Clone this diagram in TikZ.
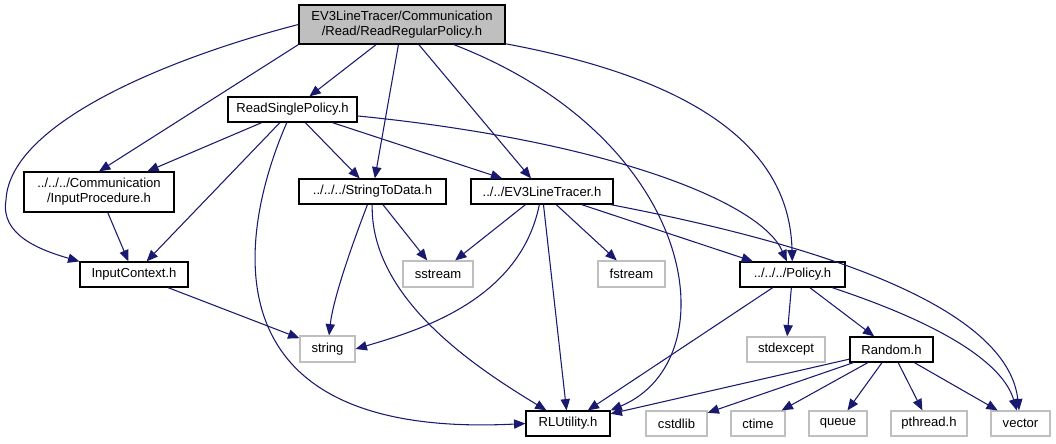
\documentclass[tikz,border=0pt]{standalone}
\usepackage{fontspec}
\setmainfont{Liberation Sans}
\usetikzlibrary{arrows.meta}
\definecolor{edgeblue}{HTML}{191970}
\definecolor{greyline}{HTML}{BFBFBF}
\tikzset{
  box/.style={draw=black, line width=0.9pt, fill=white, inner sep=0pt, align=center, font=\fontsize{9.8}{11.3}\selectfont},
  sysbox/.style={box, draw=greyline},
  rootbox/.style={box, fill=greyline},
  edge/.style={draw=edgeblue, line width=0.8pt, -{Triangle[length=8.5pt,width=7pt]}, color=edgeblue}
}
\begin{document}
\begin{tikzpicture}[x=0.75pt,y=-0.75pt]
\useasboundingbox (0,0) rectangle (1056,443);
% nodes
\node[rootbox, minimum width=154.5pt, minimum height=29.25pt] (top) at (402,24.5) {EV3LineTracer/Communication\\/Read/ReadRegularPolicy.h};
\node[box, minimum width=96.75pt, minimum height=18.75pt] (rsp) at (292.5,109.5) {ReadSinglePolicy.h};
\node[box, minimum width=112.5pt, minimum height=30pt] (ip) at (99,192) {../../../Communication\\/InputProcedure.h};
\node[box, minimum width=81pt, minimum height=18.75pt] (ic) at (134,274.5) {InputContext.h};
\node[box, minimum width=110.25pt, minimum height=18.75pt] (std) at (372.5,191.5) {../../../StringToData.h};
\node[box, minimum width=106.5pt, minimum height=18.75pt] (ev3) at (542,191.5) {../../EV3LineTracer.h};
\node[sysbox, minimum width=52.5pt, minimum height=19.5pt] (sst) at (438,274) {sstream};
\node[sysbox, minimum width=50.25pt, minimum height=19.5pt] (fst) at (631.5,274) {fstream};
\node[sysbox, minimum width=41.25pt, minimum height=19.5pt] (str) at (327.5,349) {string};
\node[box, minimum width=78.75pt, minimum height=18.75pt] (pol) at (792.5,274.5) {../../../Policy.h};
\node[sysbox, minimum width=58.5pt, minimum height=18.75pt] (sxc) at (786,349.5) {stdexcept};
\node[box, minimum width=62.25pt, minimum height=18.75pt] (rnd) at (891.5,349.5) {Random.h};
\node[sysbox, minimum width=45.75pt, minimum height=18.75pt] (csl) at (676.5,423.5) {cstdlib};
\node[sysbox, minimum width=40.5pt, minimum height=18.75pt] (ctm) at (758,423.5) {ctime};
\node[sysbox, minimum width=43.5pt, minimum height=18.75pt] (que) at (838,423.5) {queue};
\node[sysbox, minimum width=57pt, minimum height=18.75pt] (pth) at (929,423.5) {pthread.h};
\node[sysbox, minimum width=44.25pt, minimum height=18.75pt] (vec) at (1020.5,423.5) {vector};
\node[box, minimum width=63pt, minimum height=18.75pt] (rlu) at (568,423.5) {RLUtility.h};
% edges from top
\coordinate (lbend) at (6,200);
\draw[edge] (top.west) .. controls (180,55) and (10,120) .. (lbend) .. controls (0,235) and (40,250) .. (ic.north west);
\draw[edge] (top.south west) -- (ip.north);
\draw[edge] (top) -- (rsp);
\draw[edge] (top) -- (std);
\draw[edge] (top) -- (ev3);
\draw[edge] (top) .. controls (700,140) and (730,360) .. (rlu.north east);
\draw[edge] (top) .. controls (700,80) and (790,150) .. (pol);
% from ReadSinglePolicy
\draw[edge] (rsp) -- (ip);
\draw[edge] (rsp) -- (ic);
\draw[edge] (rsp) .. controls (240,230) and (200,440) .. (rlu.west);
\draw[edge] (rsp) -- (std);
\draw[edge] (rsp) -- (ev3);
\draw[edge] (rsp) .. controls (600,140) and (760,200) .. (pol);
% InputProcedure / InputContext
\draw[edge] (ip) -- (ic);
\draw[edge] (ic) -- (str);
% StringToData
\draw[edge] (std) .. controls (350,250) and (333,300) .. (str);
\draw[edge] (std) -- (sst);
\draw[edge] (std) .. controls (370,300) and (480,370) .. (rlu);
% EV3LineTracer
\draw[edge] (ev3) -- (sst);
\draw[edge] (ev3) .. controls (520,300) and (420,330) .. (str.east);
\draw[edge] (ev3) -- (rlu);
\draw[edge] (ev3) -- (fst);
\draw[edge] (ev3) -- (pol);
\draw[edge] (ev3) .. controls (900,260) and (1010,330) .. (vec);
% Policy
\draw[edge] (pol) -- (rlu);
\draw[edge] (pol) -- (sxc);
\draw[edge] (pol) -- (rnd);
\draw[edge] (pol) .. controls (960,330) and (1005,370) .. (vec);
% Random
\draw[edge] (rnd) -- (rlu);
\draw[edge] (rnd) -- (csl);
\draw[edge] (rnd) -- (ctm);
\draw[edge] (rnd) -- (que);
\draw[edge] (rnd) -- (pth);
\draw[edge] (rnd) -- (vec);
\end{tikzpicture}
\end{document}
